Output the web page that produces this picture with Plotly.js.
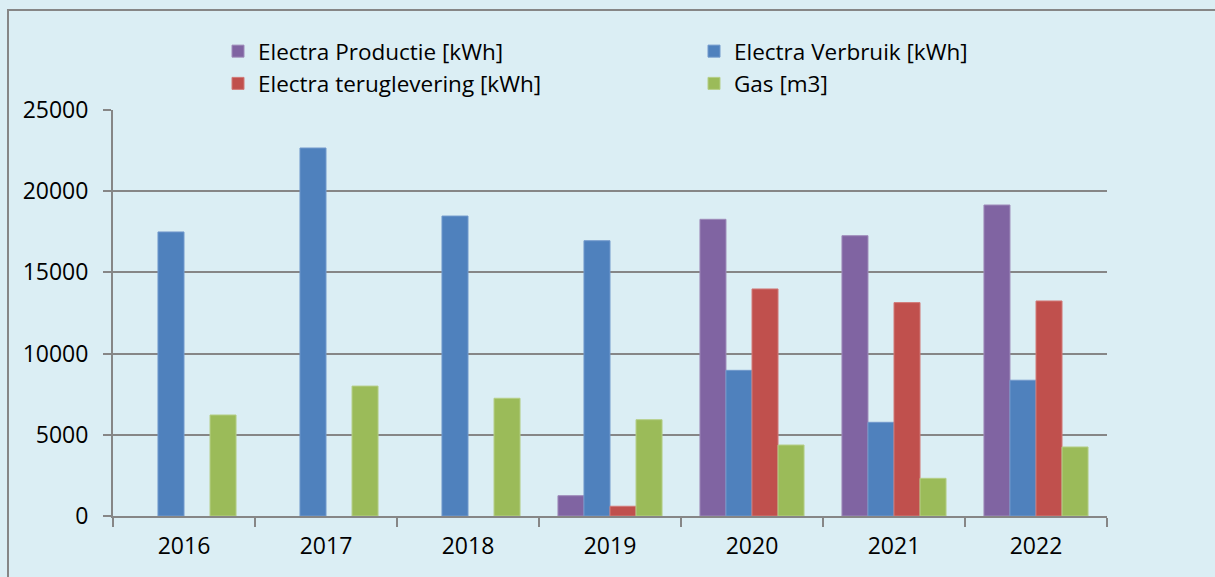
<!DOCTYPE html>
<html>
<head>
<meta charset="utf-8">
<script src="https://cdn.plot.ly/plotly-3.0.1.min.js"></script>
<style>
html,body{margin:0;padding:0;background:#DBEEF4;}
#chart{width:1215px;height:577px;}
</style>
</head>
<body>
<div id="chart"></div>
<script>
var years = ["2016", "2017", "2018", "2019", "2020", "2021", "2022"];
var productie = [null, null, null, 1250, 18270, 17260, 19150];
var verbruik = [17490, 22660, 18470, 16950, 8970, 5770, 8360];
var teruglevering = [null, null, null, 600, 13980, 13140, 13240];
var gas = [6220, 8000, 7250, 5930, 4370, 2320, 4250];

var seriesNames = ["Electra Productie [kWh]", "Electra Verbruik [kWh]", "Electra teruglevering [kWh]", "Gas [m3]"];
var seriesColors = ["#8064A2", "#4F81BD", "#C0504D", "#9BBB59"];
var seriesLines = ["#9E8BBA", "#7299CC", "#D27A78", "#B5CE87"];
var seriesValues = [productie, verbruik, teruglevering, gas];

var traces = seriesValues.map(function (vals, i) {
  return {
    type: "bar",
    x: years,
    y: vals,
    name: seriesNames[i],
    marker: { color: seriesColors[i], line: { color: seriesLines[i], width: 1 } },
    hoverinfo: "x+y+name"
  };
});

var L = 113, R = 1107, T = 110, B = 516, W = 1215, H = 577;
function px2x(p) { return (p - L) / (R - L); }
function px2y(p) { return (B - p) / (B - T); }

var layout = {
  width: W, height: H,
  margin: { l: L, r: W - R, t: T, b: H - B, pad: 0 },
  paper_bgcolor: "#DBEEF4",
  plot_bgcolor: "#DBEEF4",
  font: { family: "Open Sans, sans-serif", size: 23, color: "#000000" },
  barmode: "group",
  bargap: 0.267,
  bargroupgap: 0,
  showlegend: true,
  legend: {
    orientation: "h",
    x: px2x(218), xanchor: "left",
    y: px2y(30), yanchor: "top",
    bgcolor: "rgba(0,0,0,0)",
    entrywidth: 431,
    entrywidthmode: "pixels",
    traceorder: "normal",
    font: { family: "Open Sans, sans-serif", size: 22.5, color: "#000" },
    tracegroupgap: 0
  },
  xaxis: {
    type: "category",
    showgrid: false,
    showline: true, linecolor: "#868686", linewidth: 2,
    ticks: "outside", tickson: "boundaries", ticklen: 9, tickcolor: "#868686", tickwidth: 2,
    ticklabelstandoff: 8,
    tickfont: { family: "Open Sans, sans-serif", size: 23, color: "#000" },
    fixedrange: true
  },
  yaxis: {
    range: [0, 25000],
    tickvals: [0, 5000, 10000, 15000, 20000, 25000],
    ticktext: ["0", "5000", "10000", "15000", "20000", "25000"],
    showgrid: true, gridcolor: "#868686", gridwidth: 2,
    showline: true, linecolor: "#868686", linewidth: 2,
    ticks: "outside", ticklen: 8, tickcolor: "#868686", tickwidth: 2,
    ticklabelstandoff: 10,
    zeroline: false,
    tickfont: { family: "Open Sans, sans-serif", size: 23, color: "#000" },
    fixedrange: true
  },
  shapes: [{
    type: "rect", xref: "paper", yref: "paper",
    x0: px2x(8), x1: px2x(1225), y0: px2y(585), y1: px2y(10),
    line: { color: "#868686", width: 2 }, fillcolor: "rgba(0,0,0,0)", layer: "below"
  }]
};

Plotly.newPlot("chart", traces, layout, { displayModeBar: false, staticPlot: true });
</script>
</body>
</html>
